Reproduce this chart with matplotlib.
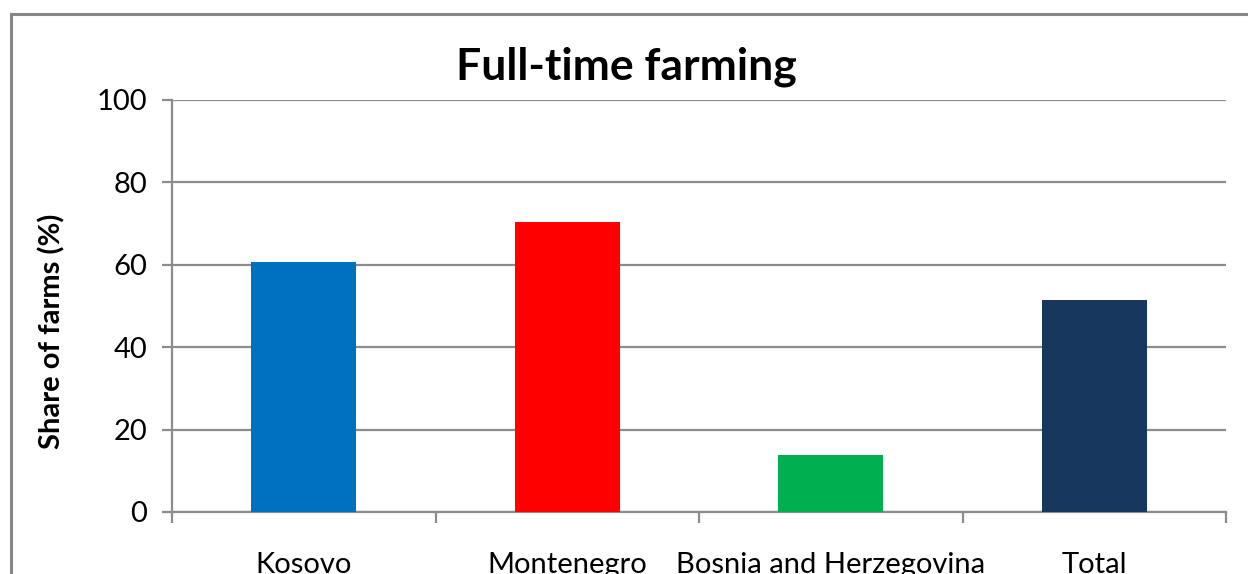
import matplotlib
matplotlib.use('Agg')
import matplotlib.pyplot as plt
from matplotlib.patches import Rectangle

# data
countries = ['Kosovo', 'Montenegro', 'Bosnia and Herzegovina', 'Total']
share_full_time = [60.7, 70.4, 13.8, 51.4]
bar_colors = ['#0070C0', '#FF0000', '#00B050', '#17375E']
y_ticks = [0, 20, 40, 60, 80, 100]

plt.rcParams['font.family'] = ['Lato', 'DejaVu Sans']

fig = plt.figure(figsize=(12.48, 5.74), dpi=100)
ax = fig.add_axes([172 / 1248, 1 - 512 / 574, (1226 - 172) / 1248, (512 - 100) / 574])

# outer chart frame (runs off the right and bottom edge)
frame = Rectangle((11 / 1248, -0.2), 1.2, 1 - 14 / 574 + 0.2, transform=fig.transFigure,
                  fill=False, edgecolor='#868686', linewidth=2.2, clip_on=False)
fig.patches.append(frame)

x = list(range(len(countries)))
ax.bar(x, share_full_time, width=0.4, color=bar_colors, zorder=3)

ax.set_xlim(-0.5, len(countries) - 0.5)
ax.set_ylim(0, 100)
ax.set_yticks(y_ticks)
ax.yaxis.grid(True, color='#8c8c8c', linewidth=1.6, zorder=0)

for side in ['top', 'right']:
    ax.spines[side].set_visible(False)
for side in ['left', 'bottom']:
    ax.spines[side].set_color('#8c8c8c')
    ax.spines[side].set_linewidth(1.6)

ax.tick_params(axis='y', length=7, width=1.6, color='#8c8c8c', labelsize=21, pad=11)
ax.set_xticks(x)
ax.set_xticklabels(countries)
ax.tick_params(axis='x', length=0, labelsize=21, pad=29)
ax.set_xticks([i - 0.5 for i in range(len(countries) + 1)], minor=True)
ax.tick_params(axis='x', which='minor', length=8, width=1.6, color='#8c8c8c')

fig.text(52 / 1248, 1 - 331 / 574, 'Share of farms (%)', rotation=90, ha='center', va='center',
         fontsize=21, fontweight='bold')
fig.text((455 + 797) / 2 / 1248, 1 - 67 / 574, 'Full-time farming', ha='center', va='center',
         fontsize=32, fontweight='bold')

fig.savefig('out.png', dpi=100)
